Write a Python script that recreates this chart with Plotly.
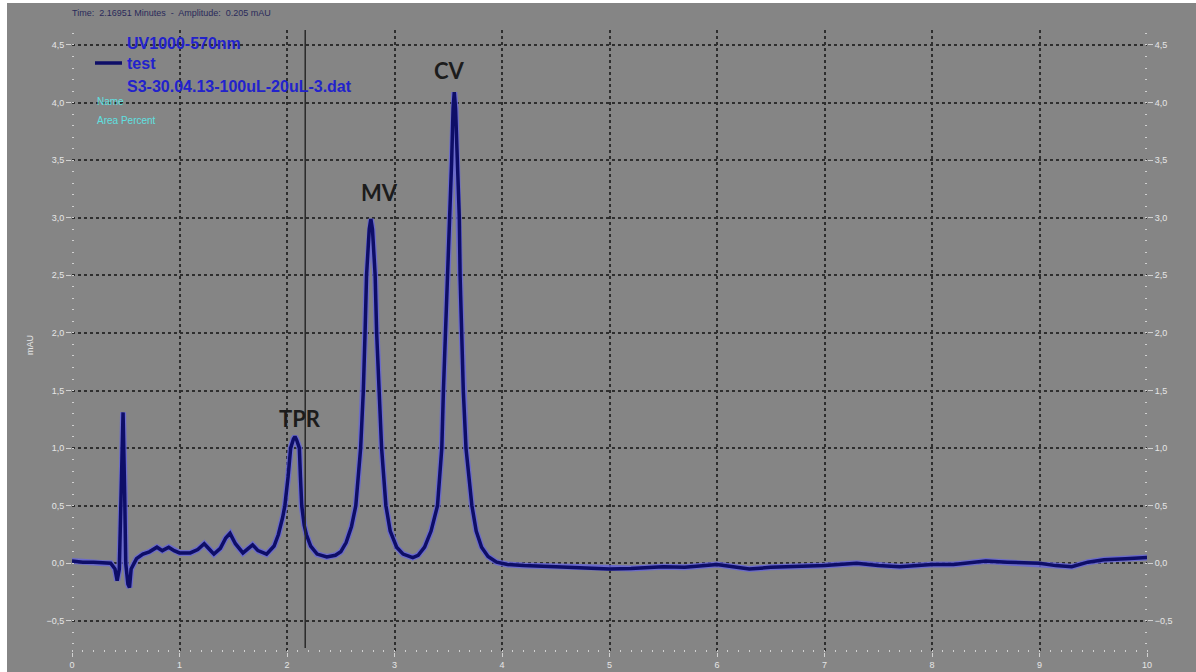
import plotly.graph_objects as go

# ---- data ----
time_min = [0.00, 0.10, 0.20, 0.30, 0.36, 0.40, 0.42, 0.44, 0.46, 0.475, 0.49, 0.50, 0.52, 0.535, 0.55,
            0.60, 0.66, 0.72, 0.79, 0.84, 0.90, 0.95, 1.00, 1.10, 1.17, 1.23, 1.28, 1.32, 1.38, 1.43,
            1.47, 1.52, 1.59, 1.64, 1.68, 1.73, 1.81, 1.88, 1.92, 1.96, 1.98, 2.01, 2.034, 2.06, 2.074,
            2.09, 2.115, 2.125, 2.137, 2.16, 2.18, 2.22, 2.28, 2.37, 2.45, 2.50, 2.55, 2.60, 2.64, 2.685,
            2.71, 2.726, 2.74, 2.765, 2.78, 2.795, 2.82, 2.834, 2.856, 2.88, 2.92, 2.96, 3.02, 3.08, 3.17,
            3.22, 3.28, 3.34, 3.40, 3.44, 3.455, 3.475, 3.50, 3.516, 3.532, 3.545, 3.556, 3.568, 3.585,
            3.603, 3.61, 3.625, 3.64, 3.665, 3.72, 3.76, 3.81, 3.87, 3.95, 4.05, 4.20, 4.50, 4.80, 5.00,
            5.20, 5.50, 5.70, 6.00, 6.15, 6.30, 6.50, 6.80, 7.00, 7.30, 7.50, 7.70, 8.00, 8.20, 8.50,
            8.70, 9.00, 9.15, 9.30, 9.45, 9.60, 9.80, 9.95, 10.00]
amplitude_mau = [0.02, 0.01, 0.01, 0.00, 0.00, -0.05, -0.15, -0.05, 0.60, 1.31, 0.60, 0.00, -0.18, -0.21, -0.05,
                 0.04, 0.08, 0.10, 0.14, 0.11, 0.14, 0.11, 0.09, 0.09, 0.12, 0.17, 0.12, 0.08, 0.13, 0.22,
                 0.26, 0.17, 0.09, 0.13, 0.16, 0.11, 0.08, 0.15, 0.25, 0.40, 0.50, 0.75, 1.00, 1.08, 1.10,
                 1.07, 1.00, 0.75, 0.50, 0.33, 0.25, 0.15, 0.08, 0.055, 0.07, 0.10, 0.18, 0.32, 0.50, 1.00,
                 1.50, 2.00, 2.50, 2.90, 2.99, 2.90, 2.50, 2.00, 1.50, 1.00, 0.50, 0.28, 0.14, 0.08, 0.05,
                 0.07, 0.14, 0.28, 0.50, 1.00, 1.50, 2.00, 2.50, 3.00, 3.50, 3.95, 4.09, 3.95, 3.50,
                 3.00, 2.50, 2.00, 1.50, 1.00, 0.50, 0.28, 0.14, 0.06, 0.01, -0.01, -0.02, -0.03, -0.04, -0.05,
                 -0.045, -0.03, -0.035, -0.01, -0.03, -0.05, -0.035, -0.03, -0.02, 0.00, -0.02, -0.03, -0.01, -0.01, 0.02,
                 0.01, 0.00, -0.02, -0.03, 0.01, 0.03, 0.04, 0.045, 0.05]

y_ticks = [-0.5, 0.0, 0.5, 1.0, 1.5, 2.0, 2.5, 3.0, 3.5, 4.0, 4.5]
x_ticks = [0, 1, 2, 3, 4, 5, 6, 7, 8, 9, 10]
peak_names = ["TPR", "MV", "CV"]
peak_label_x = [2.12, 2.856, 3.516]
peak_label_y = [1.26, 3.22, 4.28]
cursor_time = 2.16951

BG = "#858585"
TICK_TXT = "#e6e6e6"

fig = go.Figure()
# light halo under the trace
fig.add_trace(go.Scatter(x=time_min, y=amplitude_mau, mode="lines",
                         line=dict(color="rgba(100,100,220,0.8)", width=6),
                         hoverinfo="skip", showlegend=False))
fig.add_trace(go.Scatter(x=time_min, y=amplitude_mau, mode="lines",
                         line=dict(color="#0e0e68", width=3.5), name="test", showlegend=False))
# invisible trace for right axis
fig.add_trace(go.Scatter(x=[0], y=[0], yaxis="y2", mode="markers",
                         marker=dict(opacity=0), showlegend=False, hoverinfo="skip"))

yr = [-0.77, 4.63]
grid_common = dict(showgrid=True, gridcolor="#2e2e2e", griddash="dot", gridwidth=1.5, zeroline=False,
                   automargin=False)

fig.update_layout(
    width=1196, height=672,
    margin=dict(l=72, r=49, t=30, b=20, autoexpand=False),
    paper_bgcolor="white", plot_bgcolor=BG,
    separators=", ",
    font=dict(family="Liberation Sans, Arial, sans-serif"),
    xaxis=dict(range=[0, 10], tickvals=x_ticks, ticktext=[str(v) for v in x_ticks],
               ticks="outside", ticklen=4, tickcolor="#d0d0d0", tickwidth=1,
               tickfont=dict(size=9, color=TICK_TXT), showline=False,
               minor=dict(dtick=0.1, ticks="inside", ticklen=2, tickcolor="#cfcfcf", showgrid=False),
               **grid_common),
    yaxis=dict(range=yr, tickvals=y_ticks, tickformat=".1f",
               ticks="outside", ticklen=5, tickcolor="#d0d0d0", tickwidth=1,
               tickfont=dict(size=9, color=TICK_TXT), showline=False,
               minor=dict(dtick=0.1, ticks="inside", ticklen=2, tickcolor="#cfcfcf", showgrid=False),
               **grid_common),
    yaxis2=dict(range=yr, overlaying="y", side="right", tickvals=y_ticks, tickformat=".1f",
                ticks="outside", ticklen=5, tickcolor="#d0d0d0", tickwidth=1,
                tickfont=dict(size=9, color=TICK_TXT), showgrid=False, zeroline=False, showline=False,
                automargin=False,
                minor=dict(dtick=0.1, ticks="inside", ticklen=2, tickcolor="#cfcfcf")),
)

def xp(px):
    return (px - 72) / 1075.0

def yp(py):
    return (652 - py) / 622.0

shapes = [
    # gray panel covering the image area (white strips left/top remain)
    dict(type="rect", xref="paper", yref="paper", x0=xp(7), x1=xp(1200), y0=yp(676), y1=yp(3),
         fillcolor=BG, line=dict(width=0), layer="below"),
    # cursor line
    dict(type="line", xref="x", yref="paper", x0=cursor_time, x1=cursor_time, y0=yp(648), y1=yp(30),
         line=dict(color="#2a2a2a", width=1.5)),
    # legend line sample
    dict(type="line", xref="paper", yref="paper", x0=xp(95), x1=xp(122), y0=yp(63), y1=yp(63),
         line=dict(color="#0e0e68", width=3.5)),
]
fig.update_layout(shapes=shapes)

ann = []
ann.append(dict(xref="paper", yref="paper", x=xp(70), y=yp(13), xanchor="left", yanchor="middle",
                text="Time:  2.16951 Minutes  -  Amplitude:  0.205 mAU", showarrow=False,
                font=dict(size=9, color="#2a2a5a")))
ann.append(dict(xref="paper", yref="paper", x=xp(125), y=yp(43), xanchor="left", yanchor="middle",
                text="<b>UV1000-570nm</b>", showarrow=False, font=dict(size=16, color="#2222cc")))
ann.append(dict(xref="paper", yref="paper", x=xp(125), y=yp(63), xanchor="left", yanchor="middle",
                text="<b>test</b>", showarrow=False, font=dict(size=16, color="#2222cc")))
ann.append(dict(xref="paper", yref="paper", x=xp(125), y=yp(86), xanchor="left", yanchor="middle",
                text="<b>S3-30.04.13-100uL-20uL-3.dat</b>", showarrow=False,
                font=dict(size=16, color="#2222cc")))
ann.append(dict(xref="paper", yref="paper", x=xp(95), y=yp(102), xanchor="left", yanchor="middle",
                text="Name", showarrow=False, font=dict(size=10, color="#5fe0e0")))
ann.append(dict(xref="paper", yref="paper", x=xp(95), y=yp(120), xanchor="left", yanchor="middle",
                text="Area Percent", showarrow=False, font=dict(size=10, color="#5fe0e0")))
ann.append(dict(xref="paper", yref="paper", x=xp(30), y=yp(345), xanchor="center", yanchor="middle",
                text="mAU", textangle=-90, showarrow=False, font=dict(size=9, color=TICK_TXT)))
for name, lx, ly in zip(peak_names, peak_label_x, peak_label_y):
    ann.append(dict(x=lx, y=ly, xref="x", yref="y", text="<b>" + name + "</b>", showarrow=False,
                    xanchor="center", yanchor="middle",
                    font=dict(size=22, color="#1c1c1c", family="Lato, Liberation Sans, sans-serif")))
fig.update_layout(annotations=ann)

fig.write_html("out.html", config={"displayModeBar": False},
               post_script="document.body.style.margin='0';document.body.style.padding='0';")
